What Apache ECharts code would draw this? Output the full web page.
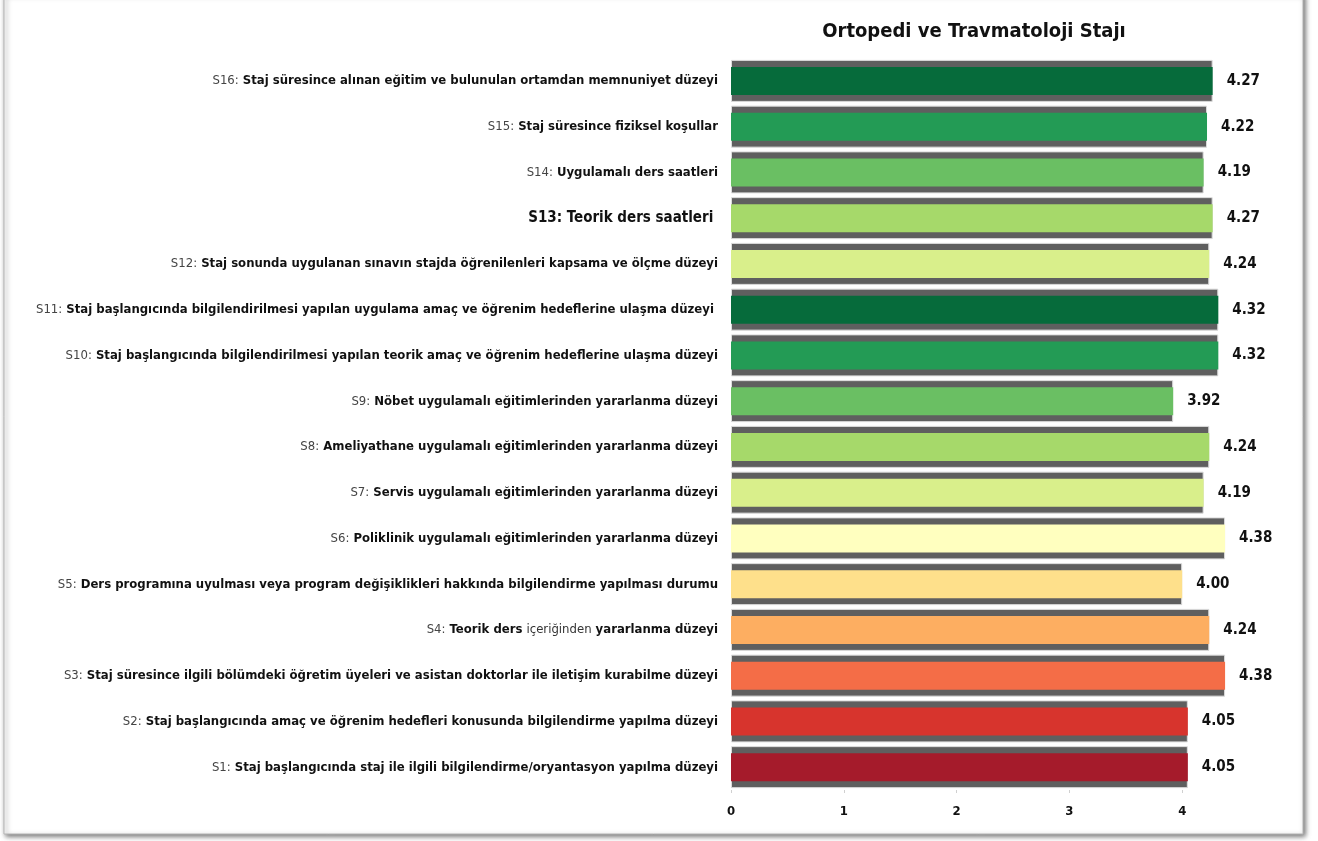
<!DOCTYPE html>
<html><head><meta charset="utf-8">
<script src="https://cdn.jsdelivr.net/npm/echarts@6/dist/echarts.min.js"></script>
<style>html,body{margin:0;padding:0;background:#fff}#c{width:1318px;height:841px}</style>
</head><body><div id="c"></div>
<script>
// Categories bottom-to-top (S1 at bottom)
const codes = ["S1","S2","S3","S4","S5","S6","S7","S8","S9","S10","S11","S12","S13","S14","S15","S16"];
const texts = [
  "Staj başlangıcında staj ile ilgili bilgilendirme/oryantasyon yapılma düzeyi",
  "Staj başlangıcında amaç ve öğrenim hedefleri konusunda bilgilendirme yapılma düzeyi",
  "Staj süresince ilgili bölümdeki öğretim üyeleri ve asistan doktorlar ile iletişim kurabilme düzeyi",
  "Teorik ders içeriğinden yararlanma düzeyi",
  "Ders programına uyulması veya program değişiklikleri hakkında bilgilendirme yapılması durumu",
  "Poliklinik uygulamalı eğitimlerinden yararlanma düzeyi",
  "Servis uygulamalı eğitimlerinden yararlanma düzeyi",
  "Ameliyathane uygulamalı eğitimlerinden yararlanma düzeyi",
  "Nöbet uygulamalı eğitimlerinden yararlanma düzeyi",
  "Staj başlangıcında bilgilendirilmesi yapılan teorik amaç ve öğrenim hedeflerine ulaşma düzeyi",
  "Staj başlangıcında bilgilendirilmesi yapılan uygulama amaç ve öğrenim hedeflerine ulaşma düzeyi ",
  "Staj sonunda uygulanan sınavın stajda öğrenilenleri kapsama ve ölçme düzeyi",
  "Teorik ders saatleri ",
  "Uygulamalı ders saatleri",
  "Staj süresince fiziksel koşullar",
  "Staj süresince alınan eğitim ve bulunulan ortamdan memnuniyet düzeyi"
];
const values = [4.05, 4.05, 4.38, 4.24, 4.00, 4.38, 4.19, 4.24, 3.92, 4.32, 4.32, 4.24, 4.27, 4.19, 4.22, 4.27];
const colors = ["#a51b2b","#d7342d","#f46d47","#fdae61","#fee08b","#ffffbf","#d9ef8b","#a6d96a","#6abf63","#239b55","#066b3b","#d9ef8b","#a6d96a","#6abf63","#239b55","#066b3b"];
const xTicks = [0, 1, 2, 3, 4];
const title = "Ortopedi ve Travmatoloji Stajı";

const categories = codes.map((c, i) => c + ": " + texts[i]);
const FONT = "'Liberation Sans Narrow','DejaVu Sans Condensed',sans-serif";

const chart = echarts.init(document.getElementById('c'), null, {renderer: 'canvas'});
chart.setOption({
  animation: false,
  backgroundColor: '#fff',
  graphic: [{
    type: 'rect', z: -10, silent: true,
    shape: {x: 4, y: -6, width: 1299, height: 840},
    style: {fill: '#fff', stroke: '#b5b5b5', lineWidth: 1, shadowBlur: 5, shadowOffsetX: 2, shadowOffsetY: 2, shadowColor: 'rgba(0,0,0,0.55)'}
  }],
  title: {
    text: title, left: 969, top: 17, textAlign: 'center',
    textStyle: {fontFamily: FONT, fontWeight: 'bold', fontSize: 20, color: '#111'}
  },
  grid: {left: 731, right: 23, top: 58, bottom: 51, containLabel: false},
  xAxis: {
    type: 'value', min: 0, max: 5, interval: 1,
    axisLine: {show: false},
    axisTick: {show: true, customValues: xTicks, lineStyle: {color: '#d0d0d0'}, length: 3},
    splitLine: {show: false},
    axisLabel: {
      margin: 15, fontFamily: FONT, fontWeight: 'bold', fontSize: 13, color: '#111',
      customValues: xTicks,
      formatter: v => (xTicks.indexOf(v) >= 0 ? String(v) : '')
    }
  },
  yAxis: [{
    type: 'category', data: categories,
    axisLine: {show: false}, axisTick: {show: false},
    axisLabel: {
      margin: 13, fontFamily: FONT, fontSize: 13, color: '#111',
      formatter: function (val) {
        const idx = val.indexOf(':');
        const code = val.slice(0, idx + 1);
        const rest = val.slice(idx + 1);
        if (code === 'S13:') return '{bc|' + code + '}{bb|' + rest + '}';
        if (rest.indexOf('içeriğinden') >= 0) {
          const parts = rest.split('içeriğinden');
          return '{c|' + code + '}{b|' + parts[0] + '}{r|içeriğinden}{b|' + parts[1] + '}';
        }
        return '{c|' + code + '}{b|' + rest + '}';
      },
      rich: {
        c: {fontFamily: FONT, fontSize: 13, color: '#444'},
        b: {fontFamily: FONT, fontSize: 13, fontWeight: 'bold', color: '#111'},
        r: {fontFamily: FONT, fontSize: 13, color: '#333'},
        bc: {fontFamily: FONT, fontSize: 15, fontWeight: 'bold', color: '#111'},
        bb: {fontFamily: FONT, fontSize: 15, fontWeight: 'bold', color: '#111'}
      }
    }
  }, {
    type: 'category', data: categories, show: false
  }],
  series: [{
    type: 'bar', yAxisIndex: 0, data: values, barWidth: 42,
    itemStyle: {color: '#5f5f5f', borderColor: '#dcdcdc', borderWidth: 1},
    label: {
      show: true, position: 'right', distance: 14,
      fontFamily: FONT, fontWeight: 'bold', fontSize: 15, color: '#111',
      formatter: p => p.value.toFixed(2)
    }
  }, {
    type: 'bar', yAxisIndex: 1, barWidth: 28,
    data: values.map((v, i) => ({value: v, itemStyle: {color: colors[i]}}))
  }]
});
</script></body></html>
